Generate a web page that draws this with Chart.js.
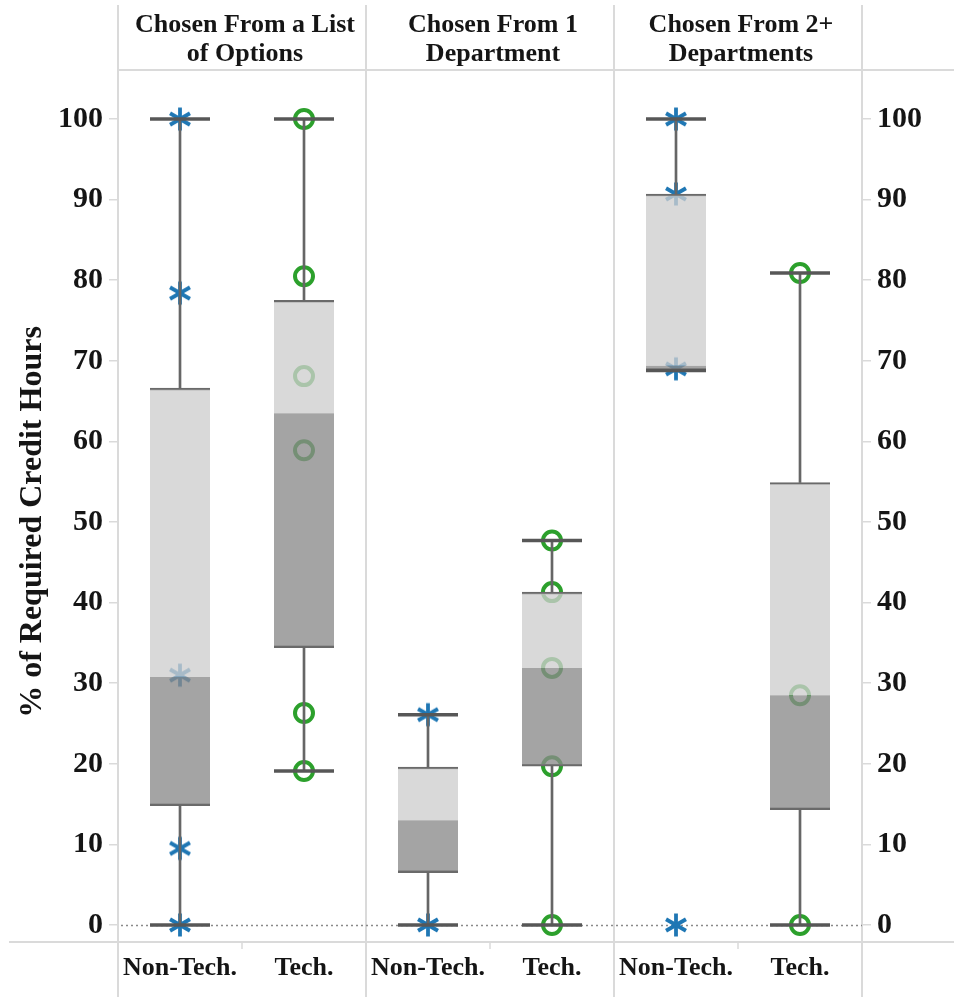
<!DOCTYPE html>
<html>
<head>
<meta charset="utf-8">
<script src="https://cdn.jsdelivr.net/npm/chart.js@4.4.1/dist/chart.umd.min.js"></script>
<style>
  html, body { margin: 0; padding: 0; background: #ffffff; }
  #wrap { width: 954px; height: 997px; }
</style>
</head>
<body>
<div id="wrap"><canvas id="c" width="954" height="997"></canvas></div>
<script>
// Panel headers (two lines each) and the category of every box slot
const panelTitles = [
  ['Chosen From a List', 'of Options'],
  ['Chosen From 1', 'Department'],
  ['Chosen From 2+', 'Departments']
];
const categories = ['Non-Tech.', 'Tech.', 'Non-Tech.', 'Tech.', 'Non-Tech.', 'Tech.'];
const yTicks = [0, 10, 20, 30, 40, 50, 60, 70, 80, 90, 100];

// Box-plot statistics per slot (% of required credit hours)
const whiskerLow  = [0,    19.1, 0,    0,    68.8, 0];
const quartile1   = [14.8, 34.4, 6.5,  19.7, 68.8, 14.3];
const medians     = [30.8, 63.5, 13.0, 31.9, 69.4, 28.5];
const quartile3   = [66.6, 77.5, 19.6, 41.3, 90.7, 54.9];
const whiskerHigh = [100,  100,  26.1, 47.7, 100,  80.9];

// Individual observations per panel
const nonTechPoints = [
  [100, 78.4, 31.0, 9.5, 0],
  [26.1, 0],
  [100, 90.7, 69.0, 0]
];
const techPoints = [
  [100, 80.5, 68.1, 58.9, 26.3, 19.1],
  [47.7, 41.3, 31.9, 19.7, 0],
  [80.9, 28.5, 0]
];

const SERIF = '"Liberation Serif", "Times New Roman", serif';
const BLUE = '#1f77b4';
const GREEN = '#2ca02c';
const GRID = '#dadada';

// six-spoke asterisk marker
function makeAsterisk() {
  const s = 26, c = document.createElement('canvas');
  c.width = s; c.height = s;
  const g = c.getContext('2d');
  g.strokeStyle = BLUE;
  g.lineWidth = 3.8;
  g.lineCap = 'butt';
  const r = 11.5;
  for (let k = 0; k < 3; k++) {
    const a = Math.PI / 2 + k * Math.PI / 3;
    g.beginPath();
    g.moveTo(s / 2 + r * Math.cos(a), s / 2 + r * Math.sin(a));
    g.lineTo(s / 2 - r * Math.cos(a), s / 2 - r * Math.sin(a));
    g.stroke();
  }
  return c;
}

const slotX = i => i + 0.5;

const nonTechData = [];
nonTechPoints.forEach((vals, p) => vals.forEach(v => nonTechData.push({ x: slotX(2 * p), y: v })));
const techData = [];
techPoints.forEach((vals, p) => vals.forEach(v => techData.push({ x: slotX(2 * p + 1), y: v })));

const lowerBox = categories.map((_, i) => ({ x: slotX(i), y: [quartile1[i], medians[i]] }));
const upperBox = categories.map((_, i) => ({ x: slotX(i), y: [medians[i], quartile3[i]] }));
const lowerWhisker = categories.map((_, i) => ({ x: slotX(i), y: [whiskerLow[i], quartile1[i]] }));
const upperWhisker = categories.map((_, i) => ({ x: slotX(i), y: [quartile3[i], whiskerHigh[i]] }));
const caps = [];
categories.forEach((_, i) => {
  caps.push({ x: slotX(i), y: whiskerLow[i] });
  caps.push({ x: slotX(i), y: whiskerHigh[i] });
});

const Y_MIN = -2.11, Y_MAX = 106.08;

const framePlugin = {
  id: 'frame',
  beforeDatasetsDraw(chart) {
    const { ctx, chartArea } = chart;
    const xs = chart.scales.x, ys = chart.scales.y;
    ctx.save();
    ctx.strokeStyle = GRID;
    ctx.lineWidth = 2;
    // panel separators
    for (let v = 0; v <= categories.length; v += 2) {
      const px = Math.round(xs.getPixelForValue(v));
      ctx.beginPath();
      ctx.moveTo(px, 5);
      ctx.lineTo(px, chart.height);
      ctx.stroke();
    }
    // header rule and axis rule
    ctx.beginPath();
    ctx.moveTo(xs.getPixelForValue(0), chartArea.top);
    ctx.lineTo(chart.width, chartArea.top);
    ctx.stroke();
    ctx.beginPath();
    ctx.moveTo(9, chartArea.bottom);
    ctx.lineTo(chart.width, chartArea.bottom);
    ctx.stroke();
    // short ticks between the two categories of a panel
    ctx.lineWidth = 1.5;
    for (let v = 1; v < categories.length; v += 2) {
      const px = Math.round(xs.getPixelForValue(v));
      ctx.beginPath();
      ctx.moveTo(px, chartArea.bottom);
      ctx.lineTo(px, chartArea.bottom + 7);
      ctx.stroke();
    }
    // dotted zero reference line
    const y0 = Math.round(ys.getPixelForValue(0)) + 0.5;
    ctx.strokeStyle = '#8a8a8a';
    ctx.lineWidth = 1.5;
    ctx.setLineDash([2, 3]);
    ctx.beginPath();
    ctx.moveTo(chartArea.left + 3, y0);
    ctx.lineTo(chartArea.right, y0);
    ctx.stroke();
    ctx.restore();
  },
  afterDraw(chart) {
    const { ctx } = chart;
    const xs = chart.scales.x, ys = chart.scales.y;
    ctx.save();
    ctx.fillStyle = '#151515';
    ctx.font = 'bold 26px ' + SERIF;
    ctx.textAlign = 'center';
    ctx.textBaseline = 'alphabetic';
    panelTitles.forEach((lines, p) => {
      const cx = xs.getPixelForValue(2 * p + 1) + 3;
      lines.forEach((t, k) => ctx.fillText(t, cx, 32 + k * 29));
    });
    // value-axis title
    ctx.translate(33, ys.getPixelForValue(50));
    ctx.rotate(-Math.PI / 2);
    ctx.font = 'bold 32px ' + SERIF;
    ctx.textBaseline = 'middle';
    ctx.fillText('% of Required Credit Hours', 0, 0);
    ctx.restore();
  }
};

const yTickOpts = {
  font: { family: SERIF, size: 30, weight: 'bold' },
  color: '#151515',
  padding: 6
};

new Chart(document.getElementById('c'), {
  type: 'bar',
  data: {
    datasets: [
      {
        type: 'scatter', label: 'Non-Tech.', data: nonTechData, order: 4,
        pointStyle: makeAsterisk(), pointRadius: 11
      },
      {
        type: 'scatter', label: 'Tech.', data: techData, order: 4,
        pointStyle: 'circle', pointRadius: 9, borderWidth: 4,
        borderColor: GREEN, backgroundColor: 'rgba(0,0,0,0)'
      },
      {
        type: 'bar', label: 'Q1-Median', data: lowerBox, order: 3, grouped: false,
        barThickness: 60, backgroundColor: 'rgba(138,138,138,0.78)',
        borderColor: '#6a6a6a', borderSkipped: false,
        borderWidth: { top: 0, bottom: 2, left: 0, right: 0 }
      },
      {
        type: 'bar', label: 'Median-Q3', data: upperBox, order: 3, grouped: false,
        barThickness: 60, backgroundColor: 'rgba(206,206,206,0.78)',
        borderColor: '#6a6a6a', borderSkipped: false,
        borderWidth: { top: 2, bottom: 0, left: 0, right: 0 }
      },
      {
        type: 'bar', label: 'Lower whisker', data: lowerWhisker, order: 2, grouped: false,
        barThickness: 2, backgroundColor: '#666666', borderWidth: 0
      },
      {
        type: 'bar', label: 'Upper whisker', data: upperWhisker, order: 2, grouped: false,
        barThickness: 2, backgroundColor: '#666666', borderWidth: 0
      },
      {
        type: 'scatter', label: 'Whisker caps', data: caps, order: 1,
        pointStyle: 'line', pointRadius: 30, borderWidth: 3.5, borderColor: '#575757'
      }
    ]
  },
  options: {
    responsive: false,
    animation: false,
    devicePixelRatio: 1,
    layout: { padding: { top: 70, left: 0, right: 0, bottom: 0 } },
    plugins: { legend: { display: false }, tooltip: { enabled: false } },
    scales: {
      x: {
        type: 'linear', position: 'bottom', min: 0, max: categories.length, offset: false,
        grid: { display: false }, border: { display: false },
        afterBuildTicks(s) { s.ticks = categories.map((_, i) => ({ value: slotX(i) })); },
        afterFit(s) { s.height = 55; },
        ticks: {
          autoSkip: false, maxRotation: 0, minRotation: 0, padding: 3,
          font: { family: SERIF, size: 26, weight: 'bold' }, color: '#151515',
          callback: (v, i) => categories[i]
        }
      },
      y: {
        type: 'linear', position: 'left', min: Y_MIN, max: Y_MAX,
        grid: { drawOnChartArea: false, drawTicks: true, tickLength: 9, color: GRID, lineWidth: 1.5 },
        border: { display: false },
        afterBuildTicks(s) { s.ticks = yTicks.map(v => ({ value: v })); },
        afterFit(s) { s.width = 118; },
        ticks: yTickOpts
      },
      y2: {
        type: 'linear', position: 'right', min: Y_MIN, max: Y_MAX,
        grid: { drawOnChartArea: false, drawTicks: true, tickLength: 9, color: GRID, lineWidth: 1.5 },
        border: { display: false },
        afterBuildTicks(s) { s.ticks = yTicks.map(v => ({ value: v })); },
        afterFit(s) { s.width = 92; },
        ticks: yTickOpts
      }
    }
  },
  plugins: [framePlugin]
});
</script>
</body>
</html>
